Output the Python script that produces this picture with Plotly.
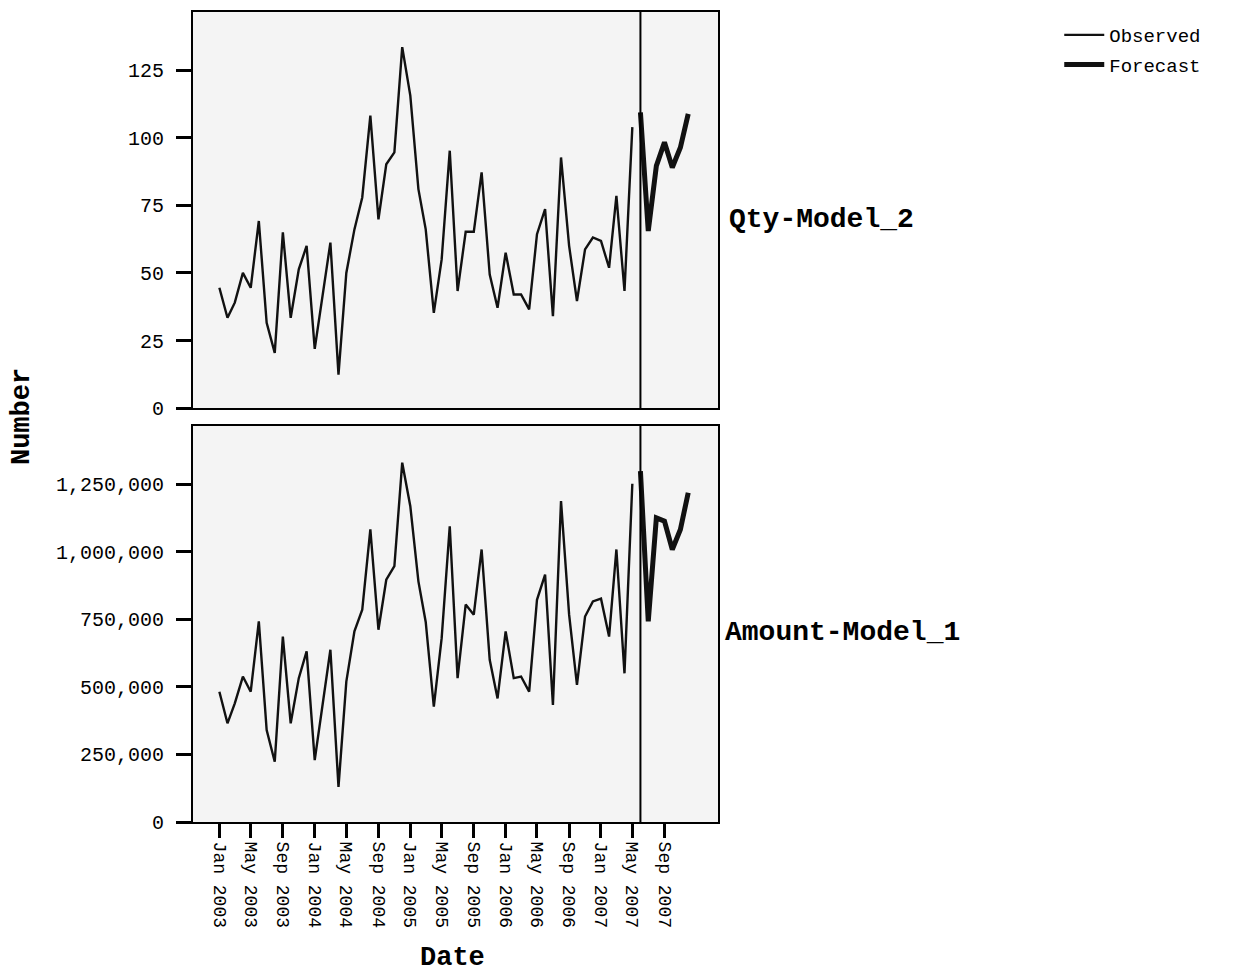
import plotly.graph_objects as go
from plotly.subplots import make_subplots
import pandas as pd

# ---- data ----
obs_dates = pd.date_range("2003-01-01", "2007-05-01", freq="MS").strftime("%Y-%m-%d").tolist()
fc_dates = pd.date_range("2007-06-01", "2007-12-01", freq="MS").strftime("%Y-%m-%d").tolist()

qty_observed = [44.5, 33.4, 39, 50, 44.5, 69.2, 31.5, 20.4, 65, 33.4, 51.3, 60, 21.9, 41.4, 61.2, 12.4,
                50, 66.1, 77.9, 108.2, 69.8, 90.2, 94.6, 133.5, 115.6, 81, 66.1, 35.2, 55, 95.2, 43.3,
                65.2, 65.2, 87.2, 49.4, 37.1, 57.5, 42, 42, 36.5, 64.3, 73.6, 34, 92.7, 60, 39.6, 58.7,
                63.1, 61.8, 51.9, 78.5, 43.3, 103.9]
qty_forecast = [109.4, 65.5, 89.6, 98.3, 89.0, 96.4, 108.8]

amount_observed = [482000, 365000, 439000, 538000, 482000, 742000, 340000, 223000, 686000, 365000,
                   532000, 631000, 229000, 433000, 637000, 130000, 519000, 705000, 785000, 1082000,
                   711000, 896000, 946000, 1329000, 1168000, 890000, 740000, 427000, 680000, 1094000,
                   532000, 804000, 767000, 1008000, 600000, 457000, 705000, 532000, 538000, 482000,
                   822000, 915000, 433000, 1187000, 767000, 507000, 760000, 816000, 826000, 686000,
                   1008000, 550000, 1251000]
amount_forecast = [1298000, 742000, 1125000, 1113000, 1008000, 1082000, 1218000]

forecast_start = "2007-06-01"
tick_dates = pd.date_range("2003-01-01", "2007-09-01", freq="4MS").strftime("%Y-%m-%d").tolist()
tick_labels = [pd.Timestamp(d).strftime("%b %Y") for d in tick_dates]
qty_ticks = [0, 25, 50, 75, 100, 125]
amount_ticks = [0, 250000, 500000, 750000, 1000000, 1250000]
panel_labels = ["Qty-Model_2", "Amount-Model_1"]

FONT = "Courier New, Nimbus Mono PS, Liberation Mono, monospace"

fig = make_subplots(rows=2, cols=1, shared_xaxes=True, vertical_spacing=0.022)

fig.add_trace(go.Scatter(x=obs_dates, y=qty_observed, mode="lines", name="Observed",
                         line=dict(color="#111111", width=2.4), legendgroup="obs"), row=1, col=1)
fig.add_trace(go.Scatter(x=fc_dates, y=qty_forecast, mode="lines", name="Forecast",
                         line=dict(color="#111111", width=5), legendgroup="fc"), row=1, col=1)
fig.add_trace(go.Scatter(x=obs_dates, y=amount_observed, mode="lines", name="Observed",
                         line=dict(color="#111111", width=2.4), legendgroup="obs", showlegend=False), row=2, col=1)
fig.add_trace(go.Scatter(x=fc_dates, y=amount_forecast, mode="lines", name="Forecast",
                         line=dict(color="#111111", width=5), legendgroup="fc", showlegend=False), row=2, col=1)

xrange = ["2002-09-22", "2008-03-24"]
common_axis = dict(showline=True, linecolor="black", linewidth=2, mirror=True, showgrid=False,
                   zeroline=False)
fig.update_xaxes(range=xrange, **common_axis)
fig.update_xaxes(showticklabels=False, ticks="", row=1, col=1)
fig.update_xaxes(tickvals=tick_dates, ticktext=tick_labels, tickangle=90, ticks="outside",
                 ticklen=14, tickwidth=2.5, tickcolor="black",
                 tickfont=dict(family=FONT, size=18, color="black"), row=2, col=1)
fig.update_yaxes(**common_axis, ticks="outside", ticklen=15, tickwidth=2.5, tickcolor="black",
                 ticklabelstandoff=8, tickfont=dict(family=FONT, size=20, color="black"))
fig.update_yaxes(range=[0, 146.5], tickvals=qty_ticks, row=1, col=1)
fig.update_yaxes(range=[0, 1465000], tickvals=amount_ticks, tickformat=",d", row=2, col=1)

fig.update_layout(yaxis=dict(domain=[0.511, 1.0]), yaxis2=dict(domain=[0.0, 0.489]))

for yref in ["y domain", "y2 domain"]:
    xr = "x" if yref == "y domain" else "x2"
    fig.add_shape(type="line", xref=xr, yref=yref, x0=forecast_start, x1=forecast_start, y0=0, y1=1,
                  line=dict(color="black", width=2))

fig.add_annotation(text="<b>Number</b>", xref="paper", yref="paper", x=-0.326, y=0.501,
                   xanchor="center", yanchor="middle",
                   textangle=-90, showarrow=False, font=dict(family=FONT, size=27, color="black"))
fig.add_annotation(text="<b>Date</b>", xref="paper", yref="paper", x=0.495, y=-0.1675,
                   xanchor="center", yanchor="middle",
                   showarrow=False, font=dict(family=FONT, size=27, color="black"))
fig.add_annotation(text="<b>%s</b>" % panel_labels[0], xref="paper", yref="paper", x=1.017, y=0.744,
                   xanchor="left", yanchor="middle", showarrow=False,
                   font=dict(family=FONT, size=28, color="black"))
fig.add_annotation(text="<b>%s</b>" % panel_labels[1], xref="paper", yref="paper", x=1.010, y=0.234,
                   xanchor="left", yanchor="middle", showarrow=False,
                   font=dict(family=FONT, size=28, color="black"))

fig.update_layout(
    width=1236, height=972,
    margin=dict(l=193, r=518, t=10, b=150),
    paper_bgcolor="white", plot_bgcolor="#f4f4f4",
    font=dict(family=FONT, color="black"),
    legend=dict(x=1.65, y=0.995, xanchor="left", yanchor="top", bgcolor="rgba(0,0,0,0)",
                font=dict(family=FONT, size=19, color="black"), tracegroupgap=2, itemwidth=40),
)

fig.write_html("out.html")
